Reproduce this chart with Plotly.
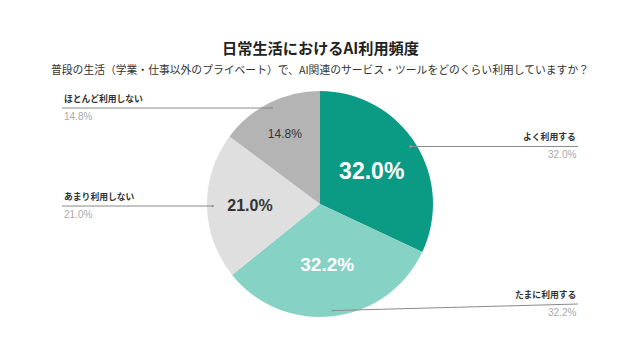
import math
import plotly.graph_objects as go

categories = ["よく利用する", "たまに利用する", "あまり利用しない", "ほとんど利用しない"]
values = [32.0, 32.2, 21.0, 14.8]
colors = ["#0b9a83", "#86d2c5", "#dfdfdf", "#b4b4b4"]
text_colors = ["#ffffff", "#ffffff", "#333333", "#333333"]
text_sizes = [23, 19, 16, 12]
text_templates = ["<b>%{value:.1f}%</b>", "<b>%{value:.1f}%</b>", "<b>%{value:.1f}%</b>", "%{value:.1f}%"]

title = "日常生活におけるAI利用頻度"
subtitle = "普段の生活（学業・仕事以外のプライベート）で、AI関連のサービス・ツールをどのくらい利用していますか？"

OFF = 8  # page body margin
W, H = 640 - 2 * OFF, 360 - 2 * OFF
cx, cy, R = 320 - OFF, 204 - OFF, 113


def px_x(x):
    return (x - OFF) / W


def px_y(y):
    return 1 - (y - OFF) / H


fig = go.Figure()
fig.add_trace(go.Pie(
    labels=categories, values=values, sort=False, direction="clockwise", rotation=0,
    marker=dict(colors=colors, line=dict(width=0)),
    texttemplate=text_templates, textposition="inside", insidetextorientation="horizontal",
    textfont=dict(family="Liberation Sans, Arial", size=text_sizes, color=text_colors),
    hoverinfo="skip", showlegend=False,
    domain=dict(x=[(cx - R) / W, (cx + R) / W], y=[1 - (cy + R) / H, 1 - (cy - R) / H]),
))

total = sum(values)
cum = 0
shapes, annotations = [], []
side = ["right", "right", "left", "left"]
end_y = [None, 304, None, None]
for i, v in enumerate(values):
    mid = (cum + v / 2) / total * 2 * math.pi
    cum += v
    r = 0.95 * R
    sx = cx + OFF + r * math.sin(mid)
    sy = cy + OFF - r * math.cos(mid)
    ey = end_y[i] if end_y[i] is not None else sy
    ex = 578 if side[i] == "right" else 62
    shapes.append(dict(type="line", xref="paper", yref="paper",
                       x0=px_x(sx), y0=px_y(sy), x1=px_x(ex), y1=px_y(ey),
                       line=dict(color="#8a8a8a", width=1)))
    shapes.append(dict(type="circle", xref="paper", yref="paper",
                       x0=px_x(sx - 1.2), x1=px_x(sx + 1.2), y0=px_y(sy - 1.2), y1=px_y(sy + 1.2),
                       fillcolor="#9a9a9a", line=dict(width=0)))
    anchor = "right" if side[i] == "right" else "left"
    annotations.append(dict(xref="paper", yref="paper", x=px_x(ex), y=px_y(ey - 1),
                            text="<b>" + categories[i] + "</b>", showarrow=False,
                            xanchor=anchor, yanchor="bottom",
                            font=dict(family="Noto Sans CJK JP", size=8.8, color="#333333")))
    annotations.append(dict(xref="paper", yref="paper", x=px_x(ex), y=px_y(ey + 1),
                            text=f"{v:.1f}%", showarrow=False,
                            xanchor=anchor, yanchor="top",
                            font=dict(family="Liberation Sans, Arial", size=10, color="#aaaaaa")))

annotations.append(dict(xref="paper", yref="paper", x=px_x(320), y=px_y(47), text="<b>" + title + "</b>",
                        showarrow=False, xanchor="center", yanchor="middle",
                        font=dict(family="Noto Sans CJK JP", size=15.2, color="#222222")))
annotations.append(dict(xref="paper", yref="paper", x=px_x(320), y=px_y(69), text=subtitle,
                        showarrow=False, xanchor="center", yanchor="middle",
                        font=dict(family="Noto Sans CJK JP", size=10.8, color="#333333")))

fig.update_layout(width=W, height=H, margin=dict(l=0, r=0, t=0, b=0),
                  paper_bgcolor="white", plot_bgcolor="white",
                  shapes=shapes, annotations=annotations)
fig.write_html("out.html")
